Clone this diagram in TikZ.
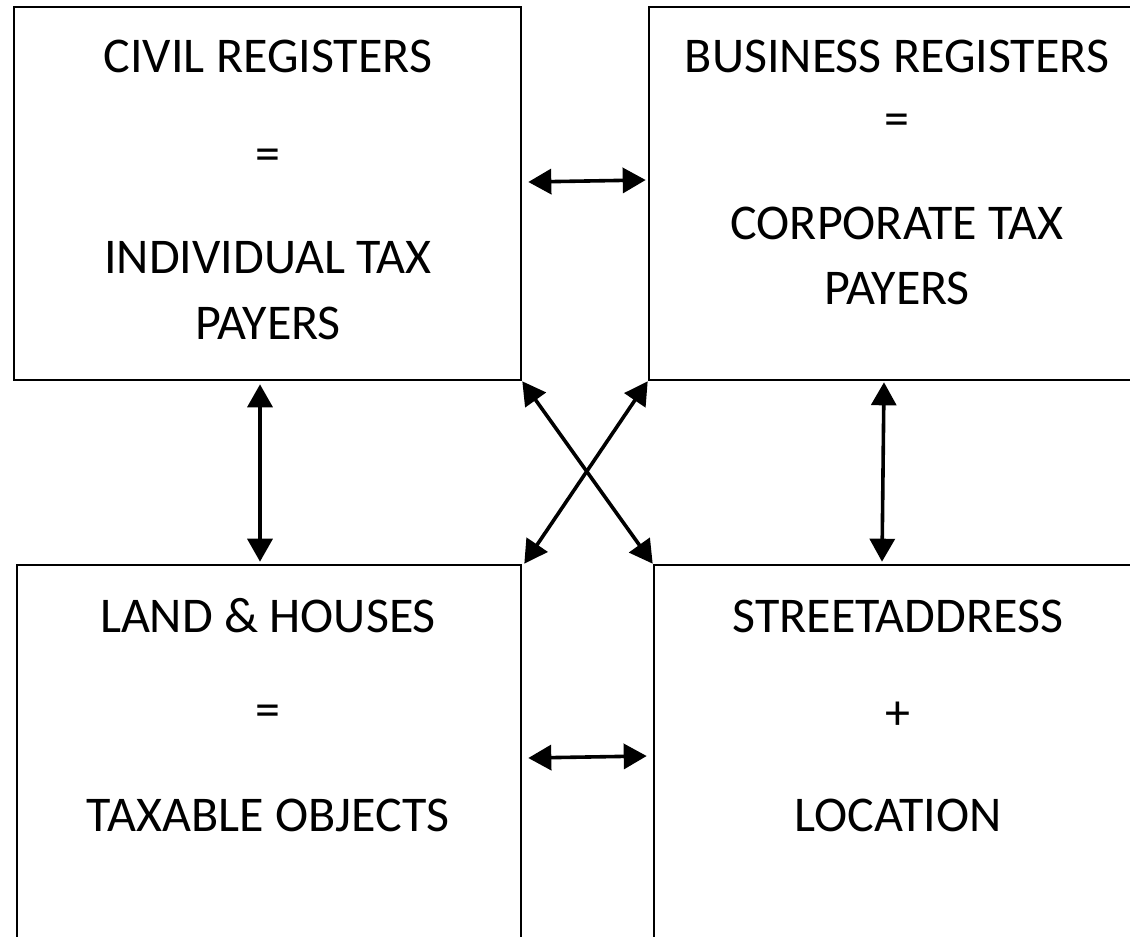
\documentclass[tikz,border=0pt]{standalone}
\usepackage{fontspec}
\setmainfont{Carlito}
\usetikzlibrary{arrows.meta}
\tikzset{
  box/.style={draw, line width=2.6pt, rectangle, inner sep=0pt},
  lbl/.style={font=\fontsize{50}{60}\selectfont, inner sep=0pt, anchor=center},
  arr/.style={line width=3.6pt, {Triangle[length=23pt,width=25pt]}-{Triangle[length=23pt,width=25pt]}, shorten <=0pt, shorten >=0pt},
}
\begin{document}
\begin{tikzpicture}[x=1pt,y=-1pt]
\useasboundingbox (0,0) rectangle (1130,937);
\clip (0,0) rectangle (1130,937);
% boxes
\node[box, minimum width=507pt, minimum height=373pt] (tl) at (267.5,193.5) {};
\node[box, minimum width=551pt, minimum height=373pt] (tr) at (924.5,193.5) {};
\node[box, minimum width=504pt, minimum height=435pt] (bl) at (269,782.5) {};
\node[box, minimum width=546pt, minimum height=435pt] (br) at (927,782.5) {};
% texts
\node[lbl] (t1) at (268,56) {CIVIL REGISTERS};
\node[lbl] (t2) at (268,160) {=};
\node[lbl] (t3) at (268,258) {INDIVIDUAL TAX};
\node[lbl] (t4) at (268,323) {PAYERS};
\node[lbl] (u1) at (897,56) {BUSINESS REGISTERS};
\node[lbl] (u2) at (897,125) {=};
\node[lbl] (u3) at (897,223) {CORPORATE TAX};
\node[lbl] (u4) at (897,288) {PAYERS};
\node[lbl] (v1) at (268,616) {LAND \& HOUSES};
\node[lbl] (v2) at (268,716) {=};
\node[lbl] (v3) at (268,815) {TAXABLE OBJECTS};
\node[lbl] (w1) at (898,616) {STREETADDRESS};
\node[lbl] (w2) at (898,716) {+};
\node[lbl] (w3) at (898,815) {LOCATION};
% connectors
\draw[arr] ([xshift=6pt,yshift=11.5pt]tl.east) -- ([xshift=-2pt,yshift=13.5pt]tr.west);
\draw[arr] ([xshift=6pt,yshift=24.5pt]bl.east) -- ([xshift=-6pt,yshift=26.5pt]br.west);
\draw[arr] ([xshift=-7.5pt,yshift=-3pt]tl.south) -- ([xshift=-9pt,yshift=2pt]bl.north);
\draw[arr] ([xshift=-40.5pt,yshift=-1pt]tr.south) -- ([xshift=-45pt,yshift=2pt]br.north);
\draw[arr] (tl.south east) -- (br.north west);
\draw[arr] (tr.south west) -- ([xshift=2pt]bl.north east);
\end{tikzpicture}
\end{document}
